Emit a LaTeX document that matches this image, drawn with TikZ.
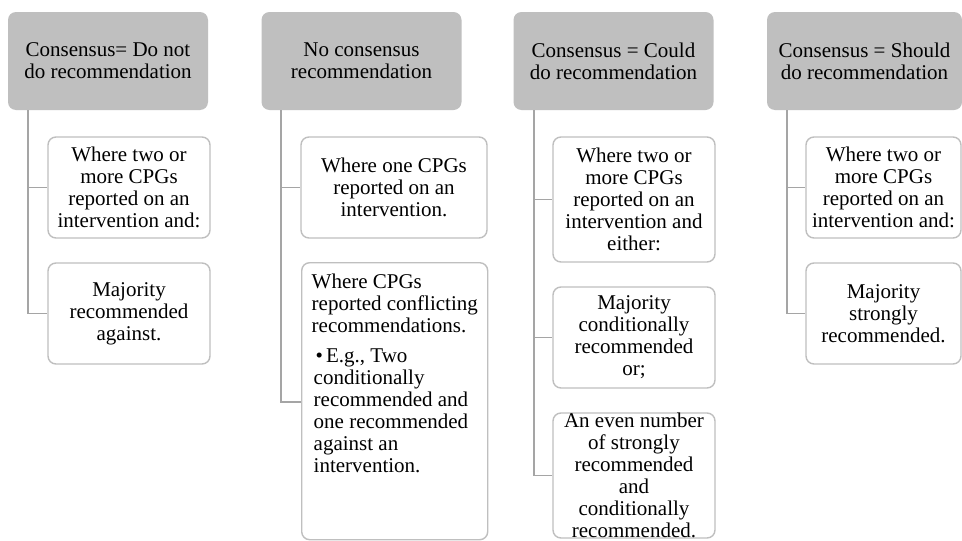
\documentclass[tikz,border=0pt]{standalone}
\usepackage{fontspec}
\setmainfont{Liberation Serif}
\usetikzlibrary{calc}
\definecolor{hdrfill}{RGB}{191,191,191}
\definecolor{boxline}{RGB}{191,191,191}
\definecolor{connline}{RGB}{165,165,165}
\tikzset{
  hdr/.style={fill=hdrfill, draw=none, rounded corners=8pt, align=center,
    font=\fontsize{21}{22}\selectfont, inner sep=2pt},
  childbox/.style={fill=white, draw=boxline, line width=1.4pt, rounded corners=8pt,
    align=center, font=\fontsize{21}{22}\selectfont, inner sep=1pt},
  conn/.style={draw=connline, line width=1.4pt}
}
\begin{document}
\begin{tikzpicture}[x=1pt,y=-1pt]
\clip (0,0) rectangle (962,541);
\fill[white] (0,0) rectangle (962,541);
% headers
\node[hdr, minimum width=200pt, minimum height=98pt] (h1) at (108,61) {Consensus= Do not\\do recommendation};
\node[hdr, minimum width=200pt, minimum height=98pt] (h2) at (361.5,61) {No consensus\\recommendation};
\node[hdr, minimum width=200pt, minimum height=98pt] (h3) at (613.5,61) {Consensus = Could\\do recommendation};
\node[hdr, minimum width=195pt, minimum height=98pt] (h4) at (864.5,61) {Consensus = Should\\do recommendation};
% column 1
\node[childbox, minimum width=162pt, minimum height=101pt] (a1) at (129,187.5) {Where two or\\more CPGs\\reported on an\\intervention and:};
\node[childbox, minimum width=162pt, minimum height=101pt] (a2) at (129,313.5) {Majority\\recommended\\against.};
% column 2
\node[childbox, minimum width=186pt, minimum height=101pt] (b1) at (394,187.5) {Where one CPGs\\reported on an\\intervention.};
\node[childbox, anchor=north west, inner sep=0pt] (b2) at (301,262) {\parbox[t][277pt][t]{186pt}{\raggedright
  \leftskip=10pt\rule{0pt}{26pt}Where CPGs\\reported conflicting\\recommendations.\par
  \vspace{8pt}\leftskip=12pt\hspace*{2pt}\textbullet\kern3pt E.g., Two\\conditionally\\recommended and\\one recommended\\against an\\intervention.\par}};
% column 3
\node[childbox, minimum width=162pt, minimum height=125pt] (c1) at (634,199.5) {Where two or\\more CPGs\\reported on an\\intervention and\\either:};
\node[childbox, minimum width=162pt, minimum height=101pt] (c2) at (634,337.5) {Majority\\conditionally\\recommended\\or;};
\node[childbox, minimum width=162pt, minimum height=125pt, inner sep=0pt] (c3) at (634,475.5) {\parbox[c][125pt][c]{162pt}{\centering An even number\\of strongly\\recommended\\and\\conditionally\\recommended.}};
% column 4
\node[childbox, minimum width=155pt, minimum height=101pt] (d1) at (883.5,187.5) {Where two or\\more CPGs\\reported on an\\intervention and:};
\node[childbox, minimum width=155pt, minimum height=101pt] (d2) at (883.5,313.5) {Majority\\strongly\\recommended.};
% connectors
\coordinate (s1) at ($(h1.south west)+(20,0)$);
\coordinate (s2) at ($(h2.south west)+(19.5,0)$);
\coordinate (s3) at ($(h3.south west)+(20.5,0)$);
\coordinate (s4) at ($(h4.south west)+(20,0)$);
\draw[conn] (s1) |- (a2.west);
\draw[conn] (s1) |- (a1.west);
\draw[conn] (s2) |- ($(b2.north west)+(0,140)$) coordinate (b2w) -- (b2w);
\draw[conn] (s2) |- (b1.west);
\draw[conn] (s3) |- (c3.west);
\draw[conn] (s3) |- (c2.west);
\draw[conn] (s3) |- (c1.west);
\draw[conn] (s4) |- (d2.west);
\draw[conn] (s4) |- (d1.west);
\end{tikzpicture}
\end{document}
